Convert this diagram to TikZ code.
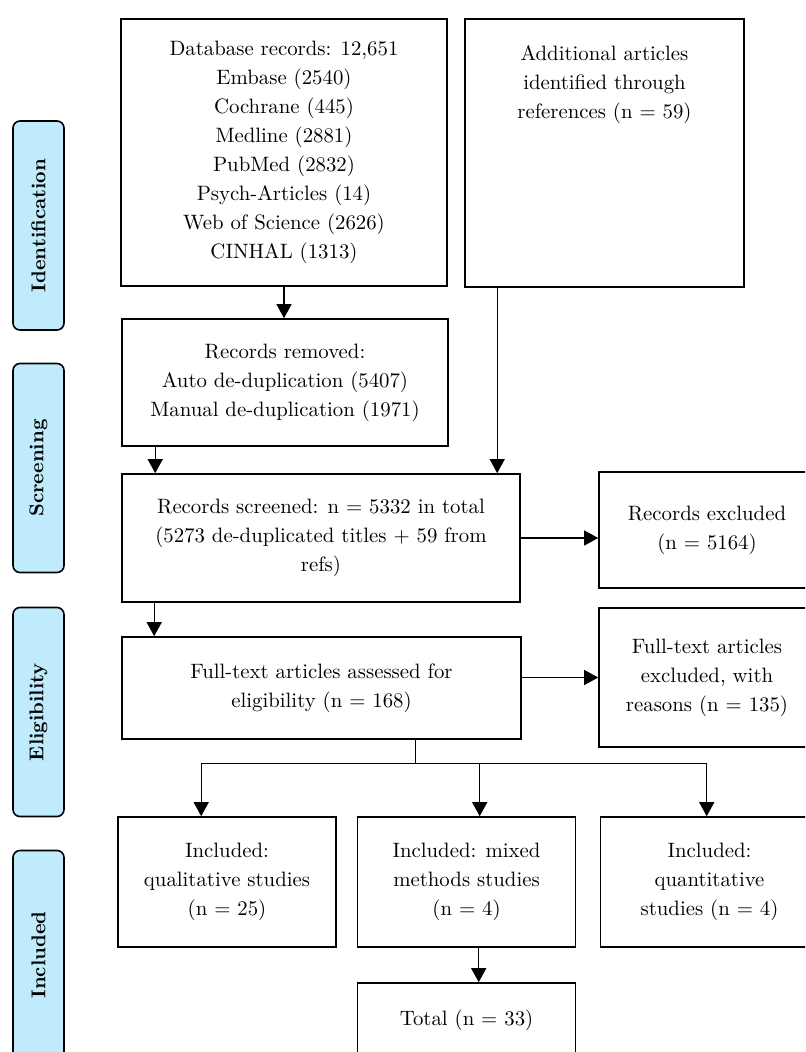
\documentclass[tikz,border=0pt]{standalone}
\usepackage{tikz}
\usetikzlibrary{arrows.meta,calc}
\definecolor{stageblue}{HTML}{BFEBFD}

\tikzset{
    box/.style={draw, line width=0.8pt, align=center, inner sep=2pt, font=\fontsize{10.4pt}{14.5pt}\selectfont},
    stage/.style={draw, line width=0.8pt, fill=stageblue, rounded corners=3.5pt, rotate=90,
        minimum width=104.5pt, minimum height=25.5pt, font=\bfseries\fontsize{10pt}{12pt}\selectfont},
    arr/.style={line width=0.6pt, -{Triangle[length=7pt,width=7.5pt]}},
    plain/.style={line width=0.6pt}
}

\begin{document}
\begin{tikzpicture}[x=0.5pt, y=-0.5pt]
    \path[use as bounding box, clip] (0,0) rectangle (805,1052);

    % Phasen.
    \foreach \name/\y in {Identification/225.5, Screening/468, Eligibility/712, Included/955}
    {
        \node[stage] (st\name) at (38.5,\y) {\name};
    }

    % Kaesten.
    \node[box, minimum width=163pt, minimum height=133.5pt] (db) at (284,152.5)
        {Database records: 12,651\\Embase (2540)\\Cochrane (445)\\Medline (2881)\\PubMed (2832)\\Psych-Articles (14)\\Web of Science (2626)\\CINHAL (1313)};
    \node[box, minimum width=139.5pt, minimum height=134pt] (add) at (604.5,153) {};
    \node[box, draw=none, anchor=north, inner sep=0pt] (addtxt) at (604.5,45)
        {Additional articles\\identified through\\references (n = 59)};
    \node[box, minimum width=163pt, minimum height=63.5pt] (removed) at (285,382.5)
        {Records removed:\\Auto de-duplication (5407)\\Manual de-duplication (1971)};
    \node[box, minimum width=199pt, minimum height=64pt] (screened) at (321,538)
        {Records screened: n = 5332 in total\\(5273 de-duplicated titles + 59 from\\refs)};
    \node[box, minimum width=108pt, minimum height=58pt] (recexcl) at (707,530)
        {Records excluded\\(n = 5164)};
    \node[box, minimum width=199.5pt, minimum height=51pt] (full) at (321.5,688)
        {Full-text articles assessed for\\eligibility (n = 168)};
    \node[box, minimum width=108pt, minimum height=69.5pt] (ftexcl) at (707,677.5)
        {Full-text articles\\excluded, with\\reasons (n = 135)};
    \node[box, minimum width=109pt, minimum height=65pt] (qual) at (227,882)
        {Included:\\qualitative studies\\(n = 25)};
    \node[box, minimum width=109pt, minimum height=65pt] (mixed) at (466.5,882)
        {Included: mixed\\methods studies\\(n = 4)};
    \node[box, minimum width=109pt, minimum height=65pt] (quant) at (709.5,882)
        {Included:\\quantitative\\studies (n = 4)};
    \node[box, minimum width=109pt, minimum height=37.5pt] (total) at (466.5,1020.5)
        {Total (n = 33)};

    % Pfeile.
    \coordinate (addout) at ($(add.south west)+(33,0)$);
    \coordinate (remout) at ($(removed.south west)+(34,0)$);
    \coordinate (scrout) at ($(screened.south west)+(33,0)$);
    \coordinate (split) at ($(full.south west)+(294,0)$);
    \coordinate (junction) at ($(split)+(0,24)$);
    \coordinate (qualin) at ($(qual.north west)+(84,0)$);
    \coordinate (mixedin) at ($(mixed.north west)+(123,0)$);
    \coordinate (quantin) at ($(quant.north west)+(107,0)$);
    \coordinate (mixedout) at ($(mixed.south west)+(122,0)$);

    \draw[arr] (db.south) -- (db.south |- removed.north);
    \draw[arr] (addout) -- (addout |- screened.north);
    \draw[arr] (remout) -- (remout |- screened.north);
    \draw[arr] (screened.east) -- (screened.east -| recexcl.west);
    \draw[arr] (scrout) -- (scrout |- full.north);
    \draw[arr] (full.east |- ftexcl.west) -- (ftexcl.west);
    \draw[plain] (split) -- (junction);
    \draw[arr] (junction) -| (qualin);
    \draw[arr] (junction) -| (mixedin);
    \draw[arr] (junction) -| (quantin);
    \draw[arr] (mixedout) -- (mixedout |- total.north);
\end{tikzpicture}
\end{document}
